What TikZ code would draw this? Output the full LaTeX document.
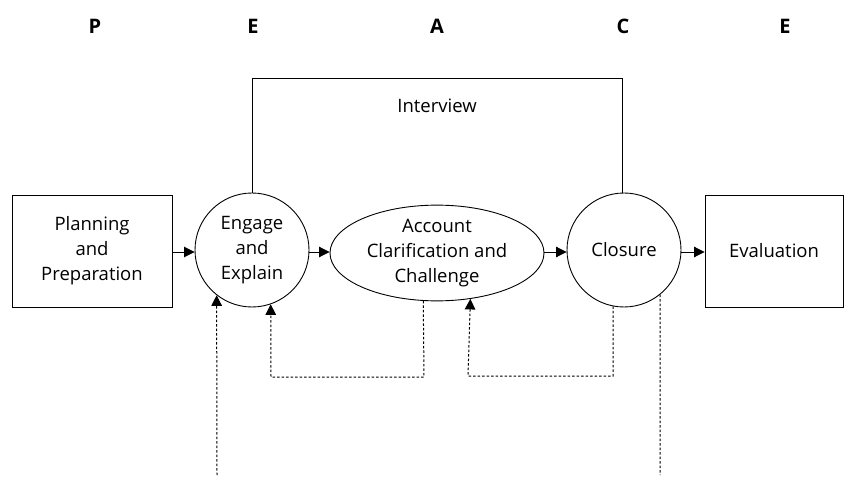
\documentclass[tikz,border=0pt]{standalone}
\usepackage{fontspec}
\setmainfont{Open Sans}
\usetikzlibrary{shapes.geometric,arrows.meta,calc}
\tikzset{
  lbl/.style={font=\fontsize{18.5}{25}\selectfont, align=center, inner sep=0pt},
  boxnode/.style={draw, line width=0.9pt, rectangle, lbl},
  circnode/.style={draw, line width=0.9pt, circle, minimum size=114pt, lbl},
  ellnode/.style={draw, line width=0.9pt, ellipse, minimum width=214pt, minimum height=91pt, lbl},
  letter/.style={font=\fontsize{20}{24}\selectfont\bfseries, inner sep=0pt},
  conn/.style={line width=0.9pt},
  arr/.style={conn, -{Triangle[length=10.5pt,width=10.5pt]}},
  dots/.style={line width=1pt, dash pattern=on 2.5pt off 2pt},
  dotarr/.style={dots, -{Triangle[length=10.5pt,width=10.5pt]}}
}
\begin{document}
\begin{tikzpicture}[x=1pt,y=-1pt]
\useasboundingbox (0,0) rectangle (856,478);
\node[letter] (lp) at (95,26) {P};
\node[letter] (le1) at (253,26) {E};
\node[letter] (la) at (437,26) {A};
\node[letter] (lc) at (623,26) {C};
\node[letter] (le2) at (785,26) {E};

\node[boxnode, minimum width=160pt, minimum height=112pt] (plan) at (92,251) {Planning\\and\\Preparation};
\node[circnode] (engage) at (252,250) {Engage\\and\\Explain};
\node[ellnode] (acc) at (437,253) {Account\\Clarification and\\Challenge};
\node[circnode] (clos) at (624,250) {Closure};
\node[boxnode, minimum width=138pt, minimum height=112pt] (eval) at (774,251) {Evaluation};

\node[lbl] (intv) at (437,106) {Interview};
\coordinate (tl) at (252,78);
\coordinate (tr) at (622,78);
\draw[conn] (engage.north) -- (tl) -- (tr) -- (tr |- clos.north);

\draw[arr] (plan.east |- 0,252) -- (engage.west |- 0,252);
\draw[arr] (engage.east |- 0,252) -- (acc.west |- 0,252);
\draw[arr] (acc.east |- 0,252) -- (clos.west |- 0,252);
\draw[arr] (clos.east |- 0,252) -- (eval.west |- 0,252);

\coordinate (d1) at (217,475);
\draw[dotarr] (d1) -- (engage.-128);

\coordinate (a2) at (424,377);
\coordinate (b2) at (271,377);
\draw[dotarr] (acc.-106) -- (a2) -- (b2) -- (engage.-71);

\coordinate (a3) at (613,376);
\coordinate (b3) at (468,376);
\draw[dotarr] (clos.-101) -- (a3) -- (b3) -- (acc.-54.5);

\coordinate (d4) at (660,475);
\draw[dots] (clos.-51) -- (d4);
\end{tikzpicture}
\end{document}
